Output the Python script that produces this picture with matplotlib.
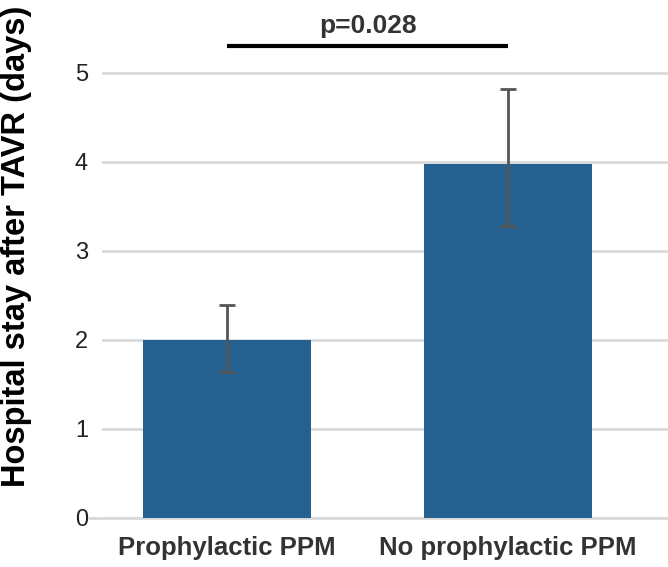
import matplotlib.pyplot as plt
import numpy as np

plt.rcParams['font.family'] = ['Liberation Sans', 'DejaVu Sans']

# data
groups = ['Prophylactic PPM', 'No prophylactic PPM']
means = [2.0, 3.98]
err_low = [0.36, 0.70]
err_high = [0.39, 0.84]
yticks = [0, 1, 2, 3, 4, 5]
p_text = 'p=0.028'

fig = plt.figure(figsize=(6.68, 5.67), dpi=100)
ax = fig.add_axes([102 / 668, 49 / 567, 566 / 668, 518 / 567])

x = np.arange(len(groups))
ax.bar(x, means, width=0.6, color='#246191', zorder=2)
ax.errorbar(x, means, yerr=[err_low, err_high], fmt='none',
            ecolor='#555555', elinewidth=2, capsize=6, capthick=2, zorder=3)

ax.set_xlim(-0.445, 1.569)
ax.set_ylim(0, 5.82)
ax.set_yticks(yticks)
ax.set_yticklabels([str(t) for t in yticks], fontsize=17, color='#222222')
ax.set_xticks(x)
ax.set_xticklabels(groups, fontsize=18.5, fontweight='bold', color='#333333')
ax.tick_params(axis='y', length=0, pad=10)
ax.tick_params(axis='x', length=0, pad=13)
ax.yaxis.grid(True, color='#d9d9d9', linewidth=2, zorder=0)
for s in ax.spines.values():
    s.set_visible(False)
# the zero line runs a bit further left than the other gridlines
ax.plot([-12 / 566, 1], [0, 0], transform=ax.get_yaxis_transform(),
        color='#d9d9d9', linewidth=2, clip_on=False, zorder=1)

ax.set_ylabel('Hospital stay after TAVR (days)', fontsize=23.5,
              fontweight='bold', color='black')
ax.yaxis.set_label_coords(-70 / 566, 0.525)

# significance bar
ax.plot([0, 1], [5.30, 5.30], color='black', linewidth=3,
        clip_on=False, solid_capstyle='butt')
ax.text(0.5, 5.45, p_text, ha='center', va='baseline', fontsize=19,
        fontweight='bold', color='#333333')

fig.savefig('out.png', dpi=100)
